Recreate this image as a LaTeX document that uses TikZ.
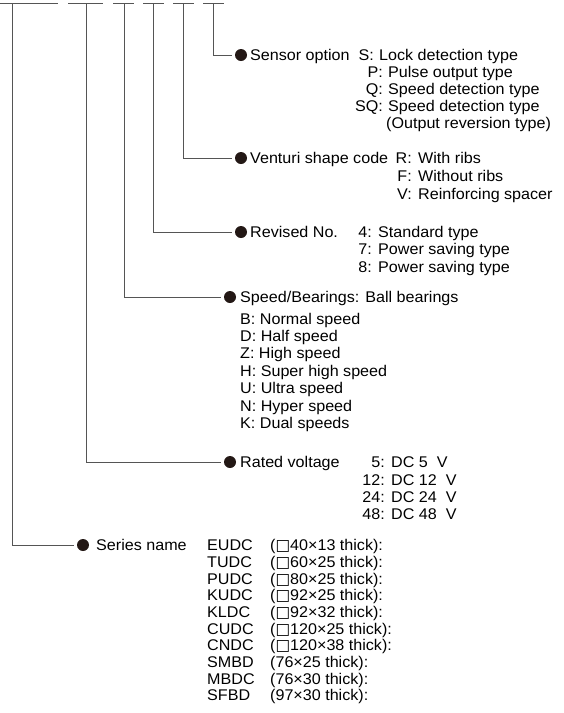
\documentclass[tikz,border=0pt]{standalone}
\usepackage{fontspec}
\setmainfont{Liberation Sans}[FakeStretch=1.04]
\newfontfamily\boxfont{DejaVu Sans}
\usetikzlibrary{positioning}
\definecolor{ink}{HTML}{231815}
\definecolor{rule}{HTML}{555555}
\newcommand{\sq}{{\boxfont □}}
\tikzset{
	dot/.style={circle,fill=ink,inner sep=0,minimum size=12pt},
	lbl/.style={inner sep=0,anchor=base west},
	code/.style={inner sep=0,anchor=base east},
	wire/.style={draw=rule,line width=0.9pt,shorten >=3pt},
}
\begin{document}
\begin{tikzpicture}[x=1pt,y=-1pt,font=\fontsize{15.5}{17}\selectfont]
	\useasboundingbox (0,0) rectangle (563,713);
	\foreach \a/\b in {0/58,68/103,113/134,143/164,173/194,203/224}
		\draw[rule,line width=0.9pt] (\a,3) -- (\b,3);
	\coordinate (T1) at (12,3);
	\coordinate (T2) at (86,3);
	\coordinate (T3) at (124,3);
	\coordinate (T4) at (153,3);
	\coordinate (T5) at (183,3);
	\coordinate (T6) at (213,3);
	\node[dot] (Dsensor) at (241,55) {};
	\node[dot] (Dventuri) at (241,158) {};
	\node[dot] (Drevised) at (241,232) {};
	\node[dot] (Dspeed) at (230,297) {};
	\node[dot] (Drated) at (230,462) {};
	\node[dot] (Dseries) at (83,545) {};
	\draw[wire] (T6) |- (Dsensor);
	\draw[wire] (T5) |- (Dventuri);
	\draw[wire] (T4) |- (Drevised);
	\draw[wire] (T3) |- (Dspeed);
	\draw[wire] (T2) |- (Drated);
	\draw[wire] (T1) |- (Dseries);

	\node[lbl] (Lsensor) at (250,60) {Sensor option};
	\node[code] (Cs) at (374,60) {S:};
	\node[lbl] at (379,60) {Lock detection type};
	\foreach \y/\c/\t in {77/P/Pulse output type,94/Q/Speed detection type,111/SQ/Speed detection type}
		\node[code] at (383,\y) {\c:} node[lbl] at (388,\y) {\t};
	\node[lbl] at (386,128) {(Output reversion type)};

	\node[lbl] (Lventuri) at (250,163) {Venturi shape code};
	\foreach \y/\c/\t in {163/R/With ribs,181/F/Without ribs,199/V/Reinforcing spacer}
		\node[code] at (412,\y) {\c:} node[lbl] at (418,\y) {\t};

	\node[lbl] (Lrevised) at (250,237) {Revised No.};
	\foreach \y/\c/\t in {237/4/Standard type,254/7/Power saving type,272/8/Power saving type}
		\node[code] at (372,\y) {\c:} node[lbl] at (378,\y) {\t};

	\node[lbl] (Lspeed) at (240,302) {Speed/Bearings: Ball bearings};
	\foreach \y/\c/\t in {324/B/Normal speed,341/D/Half speed,358/Z/High speed,376/H/Super high speed,393/U/Ultra speed,411/N/Hyper speed,428/K/Dual speeds}
		\node[lbl] at (240,\y) {\c: \t};

	\node[lbl] (Lrated) at (240,467) {Rated voltage};
	\foreach \y/\c in {467/5,485/12,502/24,519/48}
		\node[code] at (385,\y) {\c:} node[lbl] at (391,\y) {DC \c\ \ V};

	\node[lbl] (Lseries) at (96,550) {Series name};
	\foreach \y/\c/\t in {550/EUDC/\sq40×13,567/TUDC/\sq60×25,584/PUDC/\sq80×25,600/KUDC/\sq92×25,617/KLDC/\sq92×32,634/CUDC/\sq120×25,650/CNDC/\sq120×38,667/SMBD/76×25,684/MBDC/76×30,700/SFBD/97×30}
		\node[lbl] at (207,\y) {\c} node[lbl] at (270,\y) {(\t\ thick):};
\end{tikzpicture}
\end{document}
